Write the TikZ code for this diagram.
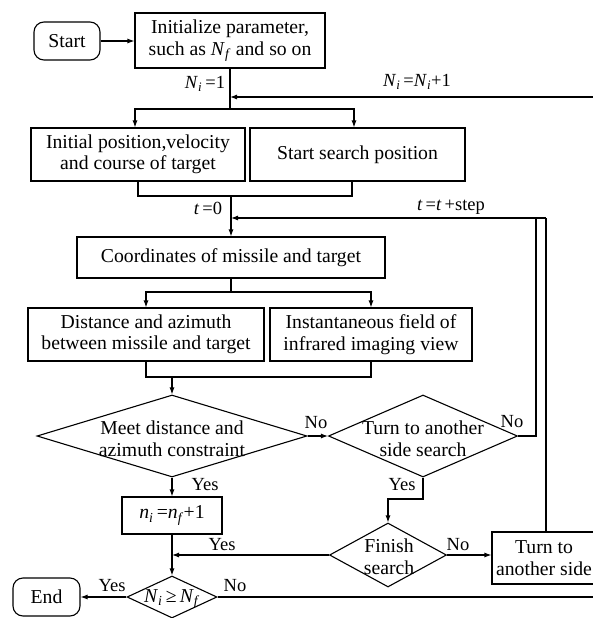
\documentclass[tikz,border=0pt]{standalone}
\usepackage{fontspec}
\setmainfont{Liberation Serif}
\usetikzlibrary{shapes.geometric,arrows.meta}
\newcommand\vv[2]{\textit{#1}\textsubscript{\textit{#2}}}
\begin{document}
\begin{tikzpicture}[x=1pt,y=-1pt,line width=1.1pt,
  txt/.style={font=\fontsize{19.7}{21.5}\selectfont,align=center,inner sep=0},
  box/.style={draw,rectangle,inner sep=0,align=center,font=\fontsize{19.7}{21.5}\selectfont},
  term/.style={draw,rectangle,rounded corners=10pt,inner sep=0,font=\fontsize{19.7}{21.5}\selectfont},
  dec/.style={draw,diamond,inner sep=0},
  lbl/.style={font=\fontsize{18.5}{20}\selectfont,inner sep=0},
  arr/.style={-{Latex[length=7pt,width=5pt]}}]
\useasboundingbox (0,0) rectangle (592,618);
% nodes
\node[term,minimum width=66,minimum height=38] (start) at (67,41) {Start};
\node[box,minimum width=190,minimum height=55] (init) at (230,40.5) {Initialize parameter,\\such as \vv{N}{f} and so on};
\node[box,minimum width=214,minimum height=53] (box1) at (138,154.5) {Initial position,velocity\\and course of target};
\node[box,minimum width=215,minimum height=53] (box2) at (357.5,154.5) {Start search position};
\node[box,minimum width=308,minimum height=41] (coord) at (231,257.5) {Coordinates of missile and target};
\node[box,minimum width=236,minimum height=53] (box3) at (146,334.5) {Distance and azimuth\\between missile and target};
\node[box,minimum width=202,minimum height=53] (box4) at (371,334.5) {Instantaneous field of\\infrared imaging view};
\node[dec,minimum width=270,minimum height=82] (d1) at (172,436) {};
\node[txt] (d1t) at (172,439) {Meet distance and\\azimuth constraint};
\node[dec,minimum width=189,minimum height=82] (d2) at (423,436) {};
\node[txt] (d2t) at (423,439) {Turn to another\\side search};
\node[dec,minimum width=117,minimum height=64] (d3) at (388,555) {};
\node[txt] (d3t) at (389,557) {Finish\\search};
\node[box,minimum width=104,minimum height=52] (box5) at (544,558) {Turn to\\another side};
\node[box,minimum width=100,minimum height=37] (nbox) at (172,515.5) {\vv{n}{i}\,=\vv{n}{f}+1};
\node[dec,minimum width=90,minimum height=42] (d4) at (172,597) {};
\node[txt] (d4t) at (172,599) {\vv{N}{i}\,≥\,\vv{N}{f}};
\node[term,minimum width=67,minimum height=38] (end) at (46.5,597) {End};
% coordinates
\coordinate (j1) at (230,109);
\coordinate (rtop) at (602,97);
\coordinate (rbot) at (602,597);
\coordinate (j2) at (231,196);
\coordinate (tl) at (546,218);
\coordinate (tl2) at (536,218);
\coordinate (j3) at (231,292);
\coordinate (j4) at (172,377);
\coordinate (j5) at (0,499);
% connectors
\draw[arr] (start.east) -- (start.east -| init.west);
\draw (init.south) -- (j1);
\draw[arr] (j1) -| ([xshift=-3pt]box1.north);
\draw[arr] (j1) -| ([xshift=-3.5pt]box2.north);
\draw[arr] (rtop) -- (rtop -| j1);
\draw (d4.east) -- (rbot) -- (rtop);
\draw (box1.south) |- (j2);
\draw ([xshift=-5.5pt]box2.south) |- (j2);
\draw[arr] (j2) -- (coord.north);
\draw[arr] (tl) -- (tl -| coord.north);
\draw (tl) -- (tl |- box5.north);
\draw (d2.east) -| (tl2);
\draw (coord.south) -- (j3);
\draw[arr] (j3) -| (box3.north);
\draw[arr] (j3) -| (box4.north);
\draw (box3.south) |- (box4.south |- j4) -- (box4.south);
\draw[arr] (j4) -- (d1.north);
\draw[arr] (d1.east) -- (d2.west);
\draw[arr] (d2.south) |- (j5 -| d3.north) -- (d3.north);
\draw[arr] (d3.east) -- (d3.east -| box5.west);
\draw[arr] (d1.south) -- (nbox.north);
\draw[arr] (nbox.south) -- (d4.north);
\draw[arr] (d3.west) -- (d3.west -| nbox.south);
\draw[arr] (d4.west) -- (end.east);
% labels
\node[lbl] (l1) at (205,84) {\vv{N}{i}\,=1};
\node[lbl] (l2) at (417,82) {\vv{N}{i}\,=\vv{N}{i}+1};
\node[lbl] (l3) at (208,208) {\textit{t}\,=0};
\node[lbl] (l4) at (451,207) {\textit{t}\,=\textit{t}\,+step};
\node[lbl] (l5) at (316,423) {No};
\node[lbl] (l6) at (512,422) {No};
\node[lbl] (l7) at (402,485) {Yes};
\node[lbl] (l8) at (458,545) {No};
\node[lbl] (l9) at (222,545) {Yes};
\node[lbl] (l10) at (205,485) {Yes};
\node[lbl] (l11) at (112,586) {Yes};
\node[lbl] (l12) at (235,586) {No};
\end{tikzpicture}
\end{document}
